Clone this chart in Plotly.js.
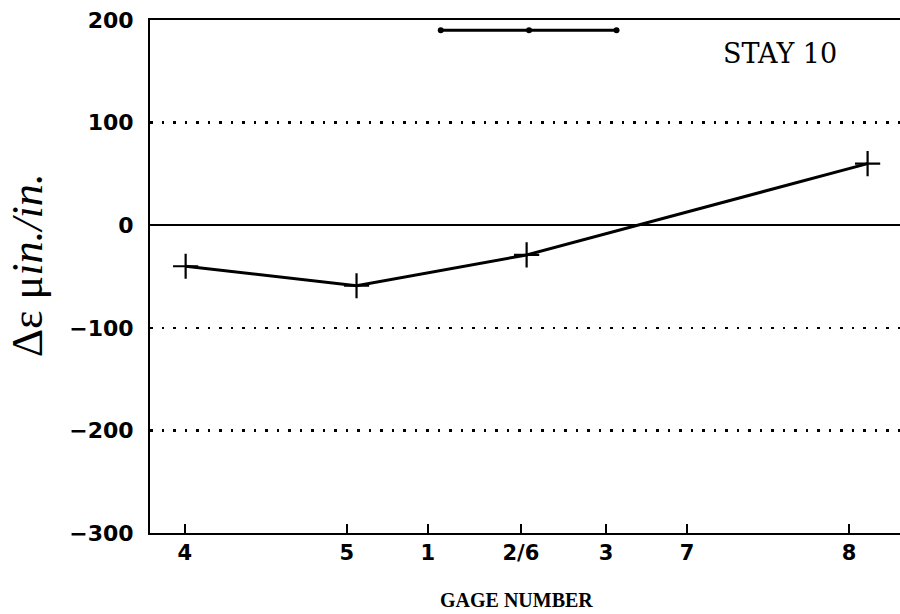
<!DOCTYPE html>
<html>
<head>
<meta charset="utf-8">
<script src="https://cdn.plot.ly/plotly-3.0.1.min.js"></script>
<style>html,body{margin:0;padding:0;background:#fff;}#chart{width:900px;height:614px;}</style>
</head>
<body>
<div id="chart"></div>
<script>
// Gage tick positions along the stay (relative units) and their labels
const gagePositions = [0, 2, 3, 4.15, 5.2, 6.2, 8.2];
const gageLabels = ["4", "5", "1", "2/6", "3", "7", "8"];

// Measured strain change at gages 4, 5, 2/6, 8
const pointX = [0.01, 2.12, 4.22, 8.43];
const pointY = [-40, -59, -29, 60];

// Top bar (span marker)
const barX = [3.16, 4.25, 5.33];
const barY = [190, 190, 190];

const yTicks = [200, 100, 0, -100, -200, -300];
const yTickText = ["200", "100", "0", "\u2212100", "\u2212200", "\u2212300"];

const traces = [
  {
    x: pointX, y: pointY, type: "scatter", mode: "lines+markers",
    line: {color: "#000", width: 3},
    marker: {symbol: "cross-thin", size: 18, line: {color: "#000", width: 2.2}},
    hoverinfo: "none", showlegend: false, cliponaxis: false
  },
  {
    x: barX, y: barY, type: "scatter", mode: "lines+markers",
    line: {color: "#000", width: 3},
    marker: {symbol: "circle", size: 6, color: "#000"},
    hoverinfo: "none", showlegend: false
  }
];

const layout = {
  width: 900, height: 614,
  margin: {l: 150, r: 0, t: 20, b: 81},
  paper_bgcolor: "#fff", plot_bgcolor: "#fff",
  showlegend: false,
  xaxis: {
    range: [-0.43, 8.83],
    tickvals: gagePositions, ticktext: gageLabels,
    ticks: "inside", ticklen: 9, tickwidth: 2, tickcolor: "#000",
    showgrid: false, zeroline: false,
    showline: true, linecolor: "#000", linewidth: 2, mirror: true,
    tickfont: {family: "DejaVu Sans", size: 21, color: "#000", weight: "bold"},
    ticklabelstandoff: 0,
    fixedrange: true
  },
  yaxis: {
    range: [-300, 200],
    tickvals: yTicks, ticktext: yTickText,
    ticks: "", showgrid: true, gridcolor: "#000", gridwidth: 2.5, griddash: "2.5px,9px",
    zeroline: true, zerolinecolor: "#000", zerolinewidth: 2,
    showline: true, linecolor: "#000", linewidth: 2,
    tickfont: {family: "DejaVu Sans", size: 22, color: "#000", weight: "bold"},
    ticklabelstandoff: 10,
    fixedrange: true
  },
  annotations: [
    {
      xref: "paper", yref: "paper", x: -0.164, y: 0.522,
      text: "\u0394\u03b5 \u03bc<i>in./in.</i>", textangle: -90, showarrow: false,
      font: {family: "Liberation Serif", size: 44, color: "#000"},
      xanchor: "center", yanchor: "middle"
    },
    {
      xref: "paper", yref: "paper", x: 0.84, y: 0.935,
      text: "STAY 10", showarrow: false,
      font: {family: "DejaVu Serif", size: 27, color: "#000"},
      xanchor: "center", yanchor: "middle"
    },
    {
      xref: "paper", yref: "paper", x: 0.489, y: -0.131,
      text: "<b>GAGE NUMBER</b>", showarrow: false,
      font: {family: "Liberation Serif", size: 20, color: "#000"},
      xanchor: "center", yanchor: "middle"
    }
  ]
};

Plotly.newPlot("chart", traces, layout, {displayModeBar: false, staticPlot: true});
</script>
</body>
</html>
